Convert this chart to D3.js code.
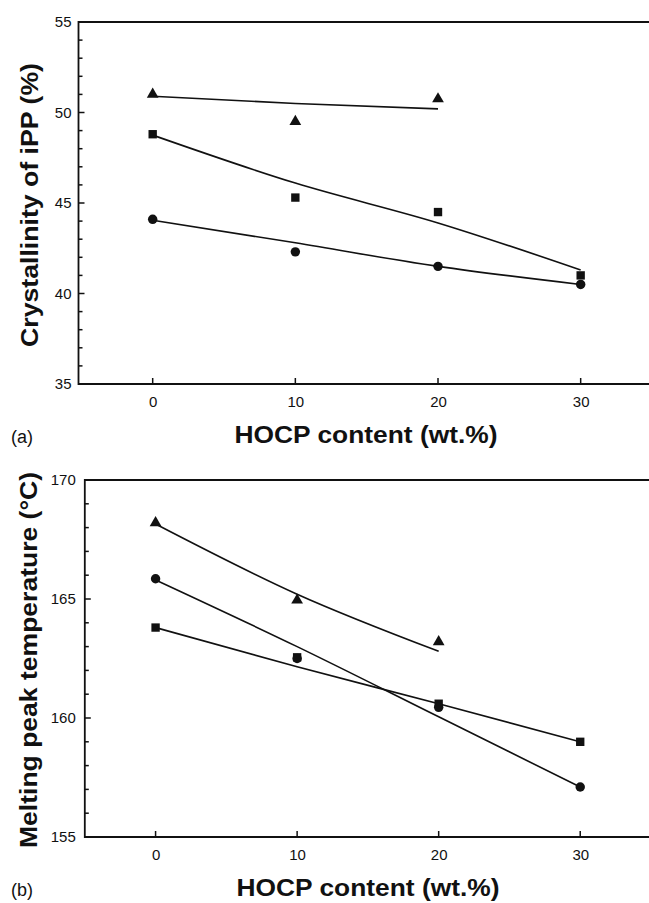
<!DOCTYPE html>
<html>
<head>
<meta charset="utf-8">
<script src="https://cdn.jsdelivr.net/npm/d3@7"></script>
<style>
  body { margin: 0; background: #fff; }
  svg { display: block; }
</style>
</head>
<body>
<div id="container"></div>
<script>
let w = 649;
let h = 903;

// x positions (HOCP content, wt.%)
let xVals = [0, 10, 20, 30];
let xTicks = [0, 10, 20, 30];

// panel (a) crystallinity of iPP (%)
let aTicks = [35, 40, 45, 50, 55];
let aTriangle = [51.0, 49.5, 50.75];
let aSquare = [48.8, 45.3, 44.5, 41.0];
let aCircle = [44.1, 42.3, 41.5, 40.5];
let aTriangleFit = [50.9, 50.5, 50.2];
let aSquareFit = [48.75, 46.1, 43.9, 41.3];
let aCircleFit = [44.05, 42.8, 41.5, 40.5];

// panel (b) melting peak temperature (C)
let bTicks = [155, 160, 165, 170];
let bTriangle = [168.2, 164.95, 163.2];
let bCircle = [165.85, 162.5, 160.45, 157.1];
let bSquare = [163.8, 162.55, 160.6, 159.0];
let bTriangleFit = [168.15, 165.2, 162.8];
let bCircleFit = [165.8, 163.0, 160.05, 157.1];
let bSquareFit = [163.8, 162.15, 160.6, 159.0];

let font = "'Liberation Sans', Arial, sans-serif";

let viz = d3.select("#container")
  .append("svg")
    .attr("width", w)
    .attr("height", h)
    .style("background-color", "white");

function drawPanel(opt) {
  let x = d3.scaleLinear().domain(opt.xDomain).range([opt.left, opt.right]);
  let y = d3.scaleLinear().domain(opt.yDomain).range([opt.bottom, opt.top]);

  let g = viz.append("g");

  // tick labels from d3 axes
  let ya = g.append("g")
    .attr("transform", "translate(" + opt.left + ",0)")
    .call(d3.axisLeft(y).tickValues(opt.yTicks).tickSize(0).tickPadding(opt.yPad).tickFormat(d3.format("d")));
  ya.select(".domain").remove();
  ya.selectAll("text").attr("font-family", font).attr("font-size", 15).attr("fill", "#111");

  let xa = g.append("g")
    .attr("transform", "translate(0," + opt.bottom + ")")
    .call(d3.axisBottom(x).tickValues(xTicks).tickSize(0).tickPadding(12).tickFormat(d3.format("d")));
  xa.select(".domain").remove();
  xa.selectAll("text").attr("font-family", font).attr("font-size", 15).attr("fill", "#111");

  // inward tick marks: minor every 1 unit, major at labels
  let minor = d3.range(opt.yDomain[0], opt.yDomain[1] + 0.001, 1);
  g.selectAll(null).data(minor).enter()
    .append("line")
      .attr("x1", opt.left).attr("x2", d => opt.left + (opt.yTicks.includes(d) ? 6 : 4))
      .attr("y1", d => y(d)).attr("y2", d => y(d))
      .attr("stroke", "#111").attr("stroke-width", 1.5);

  g.selectAll(null).data(xTicks).enter()
    .append("line")
      .attr("x1", d => x(d)).attr("x2", d => x(d))
      .attr("y1", opt.bottom).attr("y2", opt.bottom - 6)
      .attr("stroke", "#111").attr("stroke-width", 1.5);

  // frame: left, bottom, top
  g.append("path")
    .attr("d", "M" + w + "," + opt.top + "H" + opt.left + "V" + opt.bottom + "H" + w)
    .attr("fill", "none")
    .attr("stroke", "#111")
    .attr("stroke-width", 1.8);

  let line = d3.line()
    .x(d => x(d[0]))
    .y(d => y(d[1]))
    .curve(d3.curveMonotoneX);

  opt.series.forEach(s => {
    let fitPts = s.fit.map((v, i) => [xVals[i], v]);
    g.append("path")
      .datum(fitPts)
      .attr("d", line)
      .attr("fill", "none")
      .attr("stroke", "#111")
      .attr("stroke-width", 1.6);

    let pts = s.vals.map((v, i) => [xVals[i], v]);
    g.selectAll(null).data(pts).enter()
      .append("path")
        .attr("transform", d => "translate(" + x(d[0]) + "," + y(d[1]) + ")")
        .attr("d", d3.symbol().type(s.shape).size(s.size))
        .attr("fill", "#111");
  });

  // axis titles
  g.append("text")
    .attr("x", opt.xTitleX)
    .attr("y", opt.xTitleY)
    .attr("text-anchor", "middle")
    .attr("textLength", 263)
    .attr("lengthAdjust", "spacingAndGlyphs")
    .attr("font-family", font)
    .attr("font-size", 24)
    .attr("font-weight", "bold")
    .attr("fill", "#111")
    .text("HOCP content (wt.%)");

  g.append("text")
    .attr("transform", "translate(" + opt.yTitleX + "," + opt.yTitleY + ") rotate(-90)")
    .attr("text-anchor", "middle")
    .attr("textLength", opt.yTitleLen)
    .attr("lengthAdjust", "spacingAndGlyphs")
    .attr("font-family", font)
    .attr("font-size", 24)
    .attr("font-weight", "bold")
    .attr("fill", "#111")
    .text(opt.yTitle);

  g.append("text")
    .attr("x", 11)
    .attr("y", opt.xTitleY)
    .attr("font-family", font)
    .attr("font-size", 18)
    .attr("fill", "#111")
    .text(opt.label);
}

drawPanel({
  xDomain: [-5.2, 35], left: 78.5, right: 652,
  yDomain: [35, 55], top: 22, bottom: 384,
  yTicks: aTicks, yPad: 7,
  series: [
    { vals: aTriangle, fit: aTriangleFit, shape: d3.symbolTriangle, size: 60 },
    { vals: aSquare, fit: aSquareFit, shape: d3.symbolSquare, size: 70 },
    { vals: aCircle, fit: aCircleFit, shape: d3.symbolCircle, size: 70 }
  ],
  xTitleX: 366, xTitleY: 443,
  yTitle: "Crystallinity of iPP (%)", yTitleX: 38, yTitleY: 205, yTitleLen: 284,
  label: "(a)"
});

drawPanel({
  xDomain: [-5, 35], left: 84.8, right: 651,
  yDomain: [155, 170], top: 480, bottom: 837,
  yTicks: bTicks, yPad: 9,
  series: [
    { vals: bTriangle, fit: bTriangleFit, shape: d3.symbolTriangle, size: 60 },
    { vals: bSquare, fit: bSquareFit, shape: d3.symbolSquare, size: 70 },
    { vals: bCircle, fit: bCircleFit, shape: d3.symbolCircle, size: 70 }
  ],
  xTitleX: 368, xTitleY: 896,
  yTitle: "Melting peak temperature (°C)", yTitleX: 37, yTitleY: 660, yTitleLen: 376,
  label: "(b)"
});
</script>
</body>
</html>
